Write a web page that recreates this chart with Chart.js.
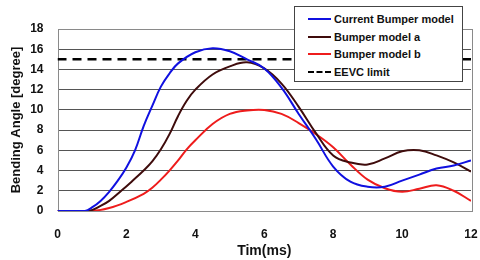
<!DOCTYPE html>
<html>
<head>
<meta charset="utf-8">
<script src="https://cdn.jsdelivr.net/npm/chart.js@4.4.0/dist/chart.umd.min.js"></script>
<style>
  html, body { margin: 0; padding: 0; background: #fff; }
  #wrap { position: relative; width: 480px; height: 260px; }
  #legend {
    position: absolute; left: 294px; top: 6px; width: 167px; height: 74px;
    background: #fff; border: 1.5px solid #444; box-sizing: content-box;
    font-family: "Liberation Sans", Arial, sans-serif; font-weight: bold; font-size: 11px; color: #111;
  }
  .item { position: absolute; left: 13px; height: 14px; line-height: 14px; white-space: nowrap; }
  .sw { display: inline-block; width: 23px; height: 0; vertical-align: middle; margin-right: 3px; position: relative; top: -1px; }
</style>
</head>
<body>
<div id="wrap">
  <canvas id="c" width="480" height="260"></canvas>
  <div id="legend"></div>
</div>
<script>
// ---- data ----
const xTicks = [0, 2, 4, 6, 8, 10, 12];
const yTicks = [0, 2, 4, 6, 8, 10, 12, 14, 16, 18];
const seriesNames = ["Current Bumper model", "Bumper model a", "Bumper model b", "EEVC limit"];

const currentT = [0, 0.5, 0.8, 1.0, 1.25, 1.5, 1.75, 2.0, 2.25, 2.5, 2.75, 3.0, 3.25, 3.5, 4.0, 4.5, 5.0, 5.5, 6.0, 6.5, 7.0, 7.5, 8.0, 8.5, 9.0, 9.5, 10.0, 10.5, 11.0, 11.5, 12];
const currentV = [0, 0, 0, 0.35, 1.0, 1.9, 3.0, 4.3, 6.0, 8.4, 10.4, 12.3, 13.6, 14.6, 15.7, 16.1, 15.8, 15.0, 14.1, 12.2, 9.6, 7.1, 4.4, 2.9, 2.4, 2.4, 3.0, 3.6, 4.2, 4.5, 5.0];

const modelAT = [0, 0.5, 0.9, 1.25, 1.5, 1.85, 2.15, 2.5, 2.75, 3.0, 3.25, 3.5, 3.75, 4.0, 4.5, 5.0, 5.5, 6.0, 6.5, 7.0, 7.5, 8.0, 8.5, 9.0, 9.5, 10.0, 10.5, 11.0, 11.5, 12];
const modelAV = [0, 0, 0, 0.5, 1.0, 2.0, 2.9, 4.0, 4.9, 6.1, 7.6, 9.4, 10.9, 12.0, 13.5, 14.3, 14.7, 14.1, 12.6, 10.3, 7.7, 5.5, 4.8, 4.6, 5.2, 5.9, 6.0, 5.5, 4.8, 3.9];

const modelBT = [0, 0.5, 1.0, 1.5, 2.0, 2.5, 2.75, 3.0, 3.25, 3.5, 3.75, 4.0, 4.5, 5.0, 5.5, 6.0, 6.5, 7.0, 7.5, 8.0, 8.5, 9.0, 9.5, 10.0, 10.5, 11.0, 11.5, 12];
const modelBV = [0, 0, 0, 0.3, 0.9, 1.7, 2.3, 3.1, 4.0, 5.0, 6.1, 7.0, 8.6, 9.6, 9.95, 10.0, 9.6, 8.7, 7.6, 6.3, 4.6, 3.1, 2.25, 1.9, 2.2, 2.55, 2.0, 1.0];

const limitT = [0, 12];
const limitV = [15, 15];

const colors = ["#1010e0", "#3f0c0c", "#ee1c1c", "#000000"];

function pts(t, v) { return t.map((x, i) => ({ x: x, y: v[i] })); }

const frame = {
  id: 'frame',
  beforeDatasetsDraw(chart) {
    const a = chart.chartArea, ctx = chart.ctx;
    ctx.save();
    ctx.strokeStyle = '#8a8a8a';
    ctx.lineWidth = 1;
    ctx.strokeRect(Math.round(a.left) + 0.5, Math.round(a.top) + 0.5, Math.round(a.right - a.left), Math.round(a.bottom - a.top));
    ctx.restore();
  }
};

const fontFam = '"Liberation Sans", Arial, sans-serif';

const chart = new Chart(document.getElementById('c'), {
  type: 'line',
  data: {
    datasets: [
      { label: seriesNames[0], data: pts(currentT, currentV), borderColor: colors[0], borderWidth: 2, tension: 0.4, pointRadius: 0 },
      { label: seriesNames[1], data: pts(modelAT, modelAV), borderColor: colors[1], borderWidth: 2, tension: 0.4, pointRadius: 0 },
      { label: seriesNames[2], data: pts(modelBT, modelBV), borderColor: colors[2], borderWidth: 2, tension: 0.4, pointRadius: 0 },
      { label: seriesNames[3], data: pts(limitT, limitV), borderColor: colors[3], borderWidth: 2.5, borderDash: [9, 6], pointRadius: 0 }
    ]
  },
  options: {
    responsive: false,
    animation: false,
    layout: { padding: { top: 29, right: 9, left: 0, bottom: 0 } },
    plugins: { legend: { display: false }, tooltip: { enabled: false } },
    scales: {
      x: {
        type: 'linear', min: 0, max: 12,
        afterBuildTicks(s) { s.ticks = xTicks.map(v => ({ value: v })); },
        afterFit(s) { s.height = 49; s.paddingLeft = 0; s.paddingRight = 0; },
        grid: { display: false, drawTicks: false },
        border: { display: false },
        ticks: { padding: 16, color: '#111', font: { family: fontFam, weight: 'bold', size: 12 } },
        title: { display: true, text: 'Tim(ms)', color: '#111', padding: { top: 5, bottom: 0 }, font: { family: fontFam, weight: 'bold', size: 14 } }
      },
      y: {
        type: 'linear', min: 0, max: 18,
        afterBuildTicks(s) { s.ticks = yTicks.map(v => ({ value: v })); },
        afterFit(s) { s.width = 57.5; s.paddingTop = 0; s.paddingBottom = 0; },
        grid: { color: '#555', lineWidth: 1, drawTicks: false },
        border: { display: false },
        ticks: { padding: 14, color: '#111', font: { family: fontFam, weight: 'bold', size: 12 } },
        title: { display: true, text: 'Bending Angle [degree]', color: '#111', padding: { top: 9, bottom: 0 }, font: { family: fontFam, weight: 'bold', size: 13 } }
      }
    }
  },
  plugins: [frame]
});

// HTML legend built from datasets
const lg = document.getElementById('legend');
const rowsY = [5, 23, 40, 58];
chart.data.datasets.forEach((d, i) => {
  const it = document.createElement('div');
  it.className = 'item';
  it.style.top = rowsY[i] + 'px';
  const sw = document.createElement('span');
  sw.className = 'sw';
  sw.style.borderTop = (d.borderDash ? '2px dashed ' : '2.5px solid ') + d.borderColor;
  it.appendChild(sw);
  it.appendChild(document.createTextNode(d.label));
  lg.appendChild(it);
});
</script>
</body>
</html>
